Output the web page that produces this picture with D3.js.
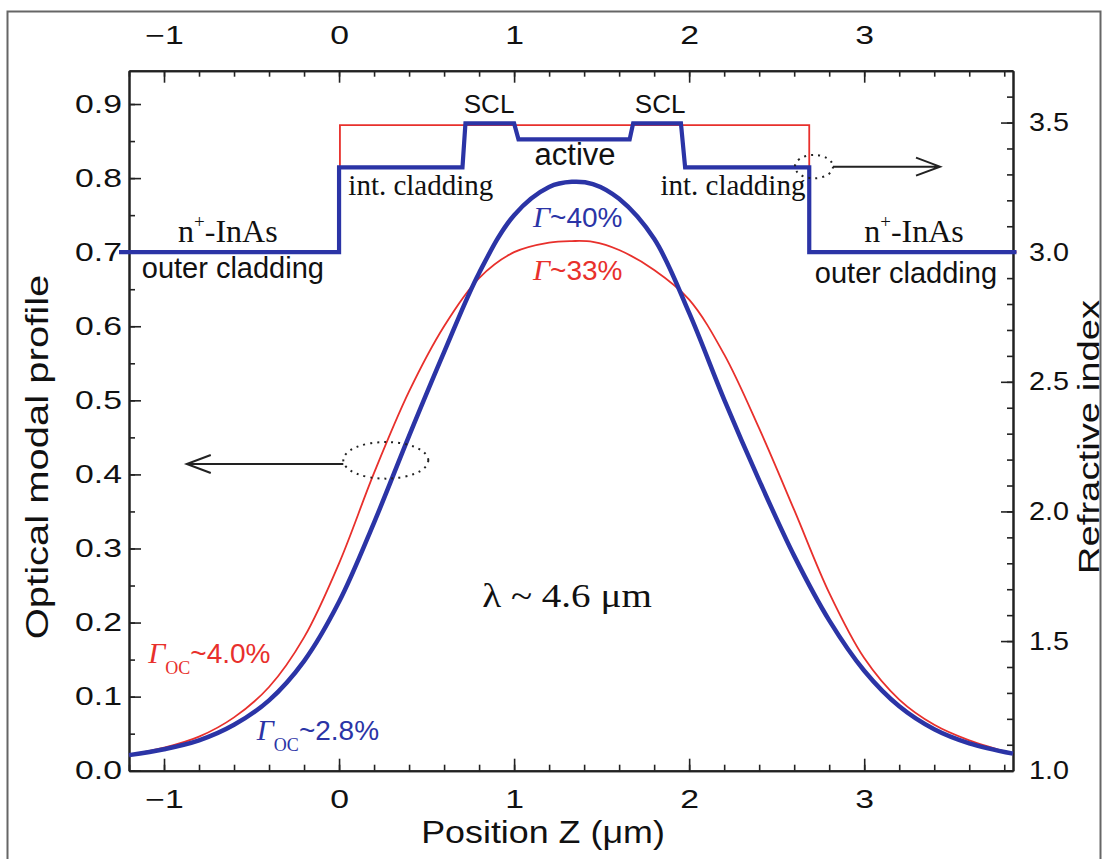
<!DOCTYPE html>
<html>
<head>
<meta charset="utf-8">
<script src="https://cdn.jsdelivr.net/npm/d3@7"></script>
<style>
  body { margin: 0; background: #fff; }
  text { font-family: "Liberation Sans", Arial, sans-serif; fill: #111; }
  .serif { font-family: "Liberation Serif", "Times New Roman", serif; }
  .axis .domain { stroke: #222; stroke-width: 2; }
  .axis line { stroke: #222; stroke-width: 1.6; }
</style>
</head>
<body>
<svg id="chart" width="1107" height="859"></svg>
<script>
// optical mode profiles
const posZ      = [-1.2, -1.0, -0.8, -0.6, -0.4, -0.2, 0.0, 0.2, 0.4, 0.6, 0.8, 1.0, 1.2, 1.33, 1.45, 1.6, 1.8, 2.0, 2.2, 2.4, 2.6, 2.8, 3.0, 3.2, 3.4, 3.6, 3.85];
const modeBlue  = [0.021, 0.029, 0.041, 0.062, 0.095, 0.148, 0.228, 0.335, 0.452, 0.565, 0.672, 0.750, 0.788, 0.795, 0.792, 0.772, 0.718, 0.618, 0.501, 0.392, 0.290, 0.203, 0.135, 0.087, 0.056, 0.037, 0.023];
const modeRed   = [0.021, 0.031, 0.046, 0.072, 0.113, 0.180, 0.280, 0.402, 0.512, 0.600, 0.665, 0.700, 0.713, 0.715, 0.714, 0.703, 0.676, 0.636, 0.562, 0.462, 0.352, 0.240, 0.152, 0.096, 0.062, 0.041, 0.023];

// refractive index steps
const stepZBlue = [-1.257, 0, 0, 0.705, 0.722, 1.0, 1.025, 1.66, 1.68, 1.953, 1.977, 2.686, 2.686, 3.87];
const stepNBlue = [3.0, 3.0, 3.327, 3.327, 3.497, 3.497, 3.435, 3.435, 3.497, 3.497, 3.327, 3.327, 3.0, 3.0];
const stepZRed  = [-1.257, 0.005, 0.005, 2.686, 2.686, 3.87];
const stepNRed  = [3.0, 3.0, 3.49, 3.49, 3.0, 3.0];

const xTicks      = [-1, 0, 1, 2, 3];
const yLeftTicks  = [0, 0.1, 0.2, 0.3, 0.4, 0.5, 0.6, 0.7, 0.8, 0.9];
const yRightTicks = [1.0, 1.5, 2.0, 2.5, 3.0, 3.5];

const BLUE = '#2b34a6', RED = '#e8302c';
const W = 1107, H = 859;
const L = 129, R = 1013, T = 70.7, B = 770.7;
const SX = 1.35; // tick labels in the picture are wide

const svg = d3.select('#chart');
svg.append('rect').attr('width', W).attr('height', H).attr('fill', '#fff');
svg.append('rect').attr('x', 7.5).attr('y', 11.5).attr('width', 1093).attr('height', 880)
  .attr('fill', 'none').attr('stroke', '#666').attr('stroke-width', 2);

const x  = d3.scaleLinear().domain([-1.2, 3.85]).range([L, R]);
const yL = d3.scaleLinear().domain([0, 0.945]).range([B, T]);
const yR = d3.scaleLinear().domain([1, 3.7]).range([B, T]);

const minorX  = d3.range(-6, 20).map(i => +(i * 0.2).toFixed(2));
const minorYL = d3.range(0, 19).map(i => +(i * 0.05).toFixed(2));
const minorYR = d3.range(10, 38).map(i => +(i * 0.1).toFixed(1));

function axis(make, tx, ty, major, minor, fmt, pad) {
  svg.append('g').attr('class', 'axis').attr('transform', `translate(${tx},${ty})`)
    .call(make().tickValues(minor).tickSizeInner(-6).tickSizeOuter(0).tickFormat(''));
  const m = svg.append('g').attr('class', 'axis').attr('transform', `translate(${tx},${ty})`);
  m.call(make().tickValues(major).tickSizeInner(-12).tickSizeOuter(0).tickPadding(pad).tickFormat(fmt));
  m.selectAll('text').style('font-size', '25px').attr('fill', '#111');
  return m;
}

const fx = d3.format('d'), f1 = d3.format('.1f');
const bx = axis(() => d3.axisBottom(x), 0, B, xTicks, minorX, fx, 20);
bx.selectAll('text').attr('transform', `scale(${SX},1)`);
const tx = axis(() => d3.axisTop(x), 0, T, xTicks, minorX, fx, 27);
tx.selectAll('text').attr('transform', `scale(${SX},1)`);
const ly = axis(() => d3.axisLeft(yL), L, 0, yLeftTicks, minorYL, f1, 7);
ly.selectAll('text').attr('x', -7 / SX).attr('transform', `scale(${SX},1)`);
const ry = axis(() => d3.axisRight(yR), R, 0, yRightTicks, minorYR, f1, 16);
ry.selectAll('text').attr('x', 16 / 1.15).attr('transform', 'scale(1.15,1)');

// axis titles
svg.append('text').attr('transform', `translate(48,457) rotate(-90) scale(1.25,1)`)
  .attr('text-anchor', 'middle').style('font-size', '32px').text('Optical modal profile');
svg.append('text').attr('transform', `translate(1099,437) rotate(-90) scale(1.32,1)`)
  .attr('text-anchor', 'middle').style('font-size', '29px').text('Refractive index');
svg.append('text').attr('transform', `translate(543,843) scale(1.12,1)`)
  .attr('text-anchor', 'middle').style('font-size', '32px').text('Position Z (\u03bcm)');

// lines
const stepLine = d3.line().x(d => x(d[0])).y(d => yR(d[1]));
const modeLine = d3.line().x(d => x(d[0])).y(d => yL(d[1])).curve(d3.curveCatmullRom.alpha(0.5));

svg.append('path').datum(d3.zip(stepZRed, stepNRed)).attr('d', stepLine)
  .attr('fill', 'none').attr('stroke', RED).attr('stroke-width', 1.8);
svg.append('path').datum(d3.zip(stepZBlue, stepNBlue)).attr('d', stepLine)
  .attr('fill', 'none').attr('stroke', BLUE).attr('stroke-width', 4.2).attr('stroke-linejoin', 'miter');
svg.append('path').datum(d3.zip(posZ, modeRed)).attr('d', modeLine)
  .attr('fill', 'none').attr('stroke', RED).attr('stroke-width', 1.8);
svg.append('path').datum(d3.zip(posZ, modeBlue)).attr('d', modeLine)
  .attr('fill', 'none').attr('stroke', BLUE).attr('stroke-width', 4.5);

// annotations
function label(px, py, str, size, cls, anchor, color) {
  return svg.append('text').attr('x', px).attr('y', py).attr('class', cls || null)
    .attr('text-anchor', anchor || 'start').style('font-size', size + 'px')
    .attr('fill', color || '#111').text(str);
}
label(x(0.857), yR(3.537), 'SCL', 26, null, 'middle');
label(x(1.834), yR(3.537), 'SCL', 26, null, 'middle');
label(x(1.348), yR(3.336), 'active', 31, null, 'middle');
label(x(0.053), yR(3.221), 'int. cladding', 29, 'serif');
label(x(2.664), yR(3.221), 'int. cladding', 29, 'serif', 'end');
label(x(-1.127), yR(2.90), 'outer cladding', 29);
label(x(2.718), yR(2.881), 'outer cladding', 29);

function inas(xv) {
  const t = svg.append('text').attr('class', 'serif').attr('x', x(xv)).attr('y', yR(3.039)).style('font-size', '32px');
  t.append('tspan').text('n');
  t.append('tspan').attr('dy', -14).style('font-size', '19px').text('+');
  t.append('tspan').attr('dy', 14).text('-InAs');
}
inas(-0.92);
inas(3.0);

function gamma(xv, yv, sub, rest, color) {
  const t = svg.append('text').attr('x', x(xv)).attr('y', yL(yv)).style('fill', color).style('font-size', '28px');
  t.append('tspan').attr('class', 'serif').style('font-style', 'italic').style('font-size', '30px').style('fill', color).text('\u0393');
  if (sub) {
    t.append('tspan').attr('class', 'serif').attr('dy', 11).style('font-size', '18px').style('fill', color).text(sub);
    t.append('tspan').attr('dy', -11).style('fill', color).text(rest);
  } else {
    t.append('tspan').style('fill', color).text(rest);
  }
}
gamma(1.108, 0.734, null, '~40%', BLUE);
gamma(1.108, 0.662, null, '~33%', RED);
gamma(-1.09, 0.145, 'OC', '~4.0%', RED);
gamma(-0.47, 0.0414, 'OC', '~2.8%', BLUE);

svg.append('text').attr('class', 'serif')
  .attr('transform', `translate(${x(1.302)},${yL(0.221)}) scale(1.15,1)`)
  .attr('text-anchor', 'middle').style('font-size', '34px').text('\u03bb ~ 4.6 \u03bcm');

// dotted ellipses with arrows
function pointer(cx, cy, rx, ry, x0, tipX, yPix) {
  svg.append('ellipse').attr('cx', cx).attr('cy', cy).attr('rx', rx).attr('ry', ry)
    .attr('fill', 'none').attr('stroke', '#222').attr('stroke-width', 2).attr('stroke-dasharray', '2,5');
  const dir = tipX < x0 ? 1 : -1;
  svg.append('path')
    .attr('d', `M${x0},${yPix}L${tipX},${yPix}M${tipX + dir * 24},${yPix - 9}L${tipX},${yPix}L${tipX + dir * 24},${yPix + 9}`)
    .attr('fill', 'none').attr('stroke', '#222').attr('stroke-width', 2);
}
pointer(x(0.267), yL(0.419), 42.5, 18.3, x(0.267) - 42.5, x(-0.87), yL(0.414));
pointer(x(2.713), yR(3.33), 19, 11.7, x(2.713) + 19, x(3.433), yR(3.33));
</script>
</body>
</html>
